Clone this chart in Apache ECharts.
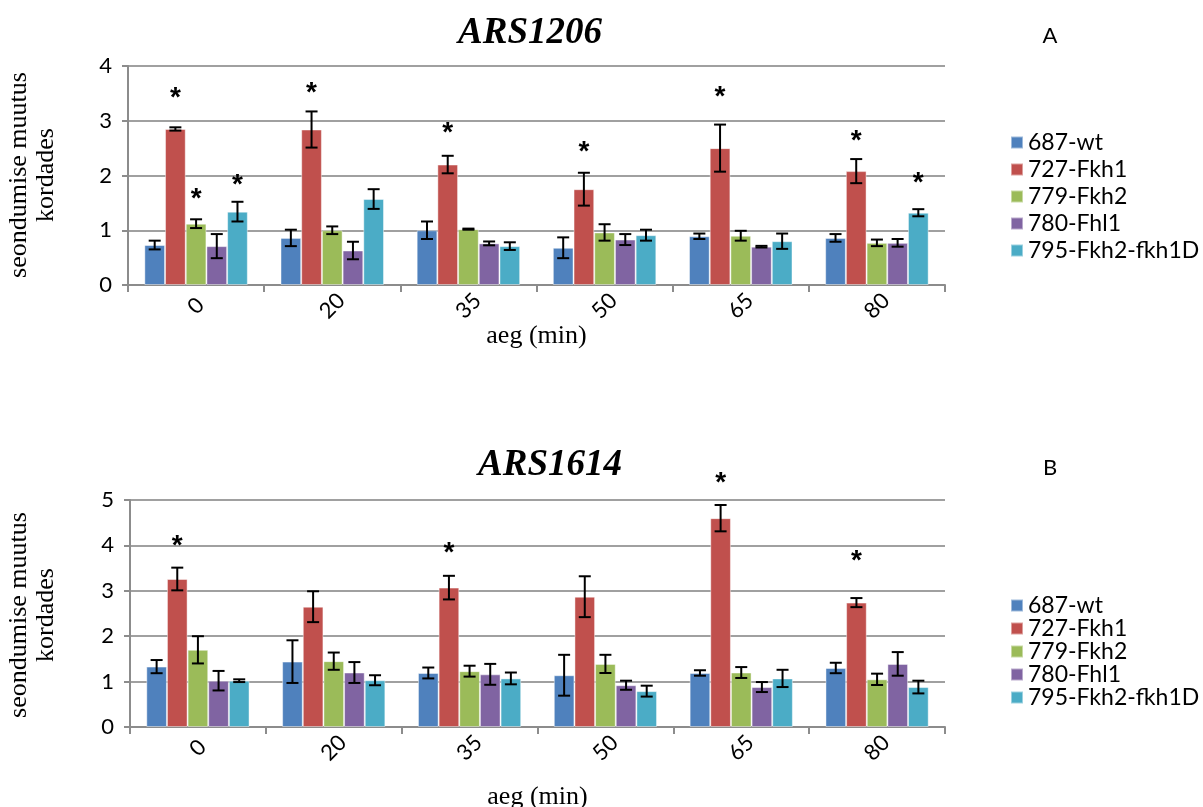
<!DOCTYPE html>
<html><head><meta charset="utf-8">
<script src="https://cdn.jsdelivr.net/npm/echarts@6/dist/echarts.min.js"></script>
<style>html,body{margin:0;padding:0;background:#fff}#c{width:1203px;height:807px}</style>
</head><body><div id="c"></div><script>
const categories = ['0', '20', '35', '50', '65', '80'];
const seriesNames = ['687-wt', '727-Fkh1', '779-Fkh2', '780-Fhl1', '795-Fkh2-fkh1D'];
const colors = ['#4F81BD', '#C0504D', '#9BBB59', '#8064A2', '#4BACC6'];
const yTicksA = [0, 1, 2, 3, 4];
const yTicksB = [0, 1, 2, 3, 4, 5];

// ARS1206 (panel A): means and error half-widths
const a_wt      = [0.73, 0.86, 1.00, 0.68, 0.89, 0.86];
const a_wt_e    = [0.08, 0.15, 0.16, 0.19, 0.05, 0.07];
const a_fkh1    = [2.85, 2.84, 2.20, 1.75, 2.50, 2.08];
const a_fkh1_e  = [0.03, 0.33, 0.16, 0.30, 0.43, 0.22];
const a_fkh2    = [1.12, 1.00, 1.02, 0.96, 0.90, 0.77];
const a_fkh2_e  = [0.08, 0.07, 0.01, 0.15, 0.09, 0.06];
const a_fhl1    = [0.71, 0.63, 0.76, 0.83, 0.70, 0.77];
const a_fhl1_e  = [0.22, 0.16, 0.035, 0.10, 0.015, 0.07];
const a_dbl     = [1.34, 1.57, 0.71, 0.91, 0.80, 1.32];
const a_dbl_e   = [0.18, 0.18, 0.07, 0.10, 0.14, 0.065];
// significance stars: [category index, series index, height]
const a_stars = [[0, 1, 3.51], [0, 2, 1.65], [0, 4, 1.92], [1, 1, 3.59], [2, 1, 2.87],
                 [3, 1, 2.52], [4, 1, 3.52], [5, 1, 2.72], [5, 4, 1.95]];

// ARS1614 (panel B)
const b_wt      = [1.33, 1.44, 1.19, 1.14, 1.19, 1.30];
const b_wt_e    = [0.145, 0.47, 0.12, 0.45, 0.06, 0.115];
const b_fkh1    = [3.26, 2.65, 3.07, 2.87, 4.60, 2.74];
const b_fkh1_e  = [0.25, 0.34, 0.26, 0.45, 0.29, 0.10];
const b_fkh2    = [1.70, 1.45, 1.23, 1.39, 1.20, 1.05];
const b_fkh2_e  = [0.30, 0.19, 0.12, 0.20, 0.12, 0.125];
const b_fhl1    = [1.02, 1.20, 1.16, 0.92, 0.88, 1.39];
const b_fhl1_e  = [0.215, 0.23, 0.23, 0.10, 0.11, 0.26];
const b_dbl     = [1.02, 1.03, 1.07, 0.79, 1.07, 0.88];
const b_dbl_e   = [0.03, 0.11, 0.13, 0.12, 0.19, 0.14];
const b_stars = [[0, 1, 4.09], [2, 1, 3.93], [4, 1, 5.48], [5, 1, 3.77]];

const aVals = [a_wt, a_fkh1, a_fkh2, a_fhl1, a_dbl];
const aErrs = [a_wt_e, a_fkh1_e, a_fkh2_e, a_fhl1_e, a_dbl_e];
const bVals = [b_wt, b_fkh1, b_fkh2, b_fhl1, b_dbl];
const bErrs = [b_wt_e, b_fkh1_e, b_fkh2_e, b_fhl1_e, b_dbl_e];

const GAP = 0.24;
const SANS = 'Lato';
const SERIF = 'Liberation Serif';

function barOffset(api, s) {
  const band = api.size([1, 0])[0];
  const bw = band * (1 - GAP) / 5;
  return (s - 2) * bw;
}
function errRender(params, api) {
  const cat = api.value(0), s = api.value(1), v = api.value(2), e = api.value(3);
  const x = api.coord([cat, v])[0] + barOffset(api, s);
  const top = api.coord([cat, v + e])[1];
  const bot = api.coord([cat, v - e])[1];
  const cap = 6;
  const st = { stroke: '#000', lineWidth: 2 };
  return { type: 'group', children: [
    { type: 'line', shape: { x1: x, y1: top, x2: x, y2: bot }, style: st },
    { type: 'line', shape: { x1: x - cap, y1: top, x2: x + cap, y2: top }, style: st },
    { type: 'line', shape: { x1: x - cap, y1: bot, x2: x + cap, y2: bot }, style: st }
  ]};
}
function starRender(params, api) {
  const cat = api.value(0), s = api.value(1), h = api.value(2);
  const p = api.coord([cat, h]);
  return { type: 'text', x: p[0] + barOffset(api, s), y: p[1] + 5,
    style: { text: '*', fontSize: 28, fontWeight: 'bold', fontFamily: 'Liberation Sans', fill: '#000', align: 'center', verticalAlign: 'middle' } };
}

const series = [];
function addPanel(idx, vals, errs, stars) {
  vals.forEach((v, s) => {
    series.push({ type: 'bar', name: seriesNames[s], xAxisIndex: idx, yAxisIndex: idx,
      data: v, barCategoryGap: (GAP * 100) + '%', barGap: '0%',
      itemStyle: { color: colors[s], borderColor: 'rgba(255,255,255,0.45)', borderWidth: 1 },
      emphasis: { disabled: true } });
  });
  const errData = [];
  vals.forEach((v, s) => v.forEach((val, c) => errData.push([c, s, val, errs[s][c]])));
  series.push({ type: 'custom', xAxisIndex: idx, yAxisIndex: idx, data: errData,
    renderItem: errRender, encode: { x: 0, y: 2 }, z: 5, silent: true });
  series.push({ type: 'custom', xAxisIndex: idx, yAxisIndex: idx, data: stars,
    renderItem: starRender, encode: { x: 0, y: 2 }, z: 6, silent: true, clip: false });
}
addPanel(0, aVals, aErrs, a_stars);
addPanel(1, bVals, bErrs, b_stars);

function xAxis(idx, gap) {
  return { type: 'category', gridIndex: idx, data: categories,
    name: 'aeg (min)', nameLocation: 'middle', nameGap: gap, nameMoveOverlap: false,
    nameTextStyle: { fontFamily: SERIF, fontSize: 26, color: '#000' },
    axisLine: { lineStyle: { color: '#8c8c8c', width: 2 } },
    axisTick: { show: true, length: 7, lineStyle: { color: '#8c8c8c', width: 2 } },
    axisLabel: { rotate: 45, margin: 21, align: 'center', verticalAlign: 'middle',
      fontFamily: SANS, fontSize: 22, color: '#000' } };
}
function yAxis(idx, max) {
  return { type: 'value', gridIndex: idx, min: 0, max: max, interval: 1,
    axisLine: { show: true, lineStyle: { color: '#8c8c8c', width: 2 } },
    axisTick: { show: true, length: 6, lineStyle: { color: '#8c8c8c', width: 2 } },
    splitLine: { lineStyle: { color: '#a0a0a0', width: 2 } },
    axisLabel: { margin: 16, fontFamily: SANS, fontSize: 22, color: '#000',
      formatter: v => String(v) } };
}
function legend(top, gap) {
  return { data: seriesNames, orient: 'vertical', left: 1005, top: top,
    icon: 'rect', itemWidth: 12, itemHeight: 12, itemGap: gap,
    textStyle: { fontFamily: SANS, fontSize: 23, color: '#000', padding: [0, 0, 0, 0] } };
}
function yName(cy) {
  return { type: 'text', x: 33, y: cy, rotation: Math.PI / 2,
    style: { text: 'seondumise muutus\nkordades', fontFamily: SERIF, fontSize: 26, lineHeight: 27,
      fill: '#000', align: 'center', verticalAlign: 'middle' } };
}

const chart = echarts.init(document.getElementById('c'), null, { renderer: 'canvas' });
chart.setOption({
  animation: false,
  color: colors,
  title: [
    { text: 'ARS1206', left: 525, top: 10, textAlign: 'center',
      textStyle: { fontFamily: SERIF, fontStyle: 'italic', fontWeight: 'bold', fontSize: 37, color: '#000' } },
    { text: 'A', left: 1045, top: 20, textAlign: 'center',
      textStyle: { fontFamily: SANS, fontWeight: 'normal', fontSize: 22, color: '#000' } },
    { text: 'ARS1614', left: 545, top: 442, textAlign: 'center',
      textStyle: { fontFamily: SERIF, fontStyle: 'italic', fontWeight: 'bold', fontSize: 37, color: '#000' } },
    { text: 'B', left: 1045, top: 452, textAlign: 'center',
      textStyle: { fontFamily: SANS, fontWeight: 'normal', fontSize: 22, color: '#000' } }
  ],
  legend: [legend(126, 4), legend(589, 0)],
  grid: [
    { left: 128, right: 258, top: 66, height: 219, outerBoundsMode: 'none', containLabel: false },
    { left: 130, right: 258, top: 500, height: 227, outerBoundsMode: 'none', containLabel: false }
  ],
  xAxis: [xAxis(0, 38), xAxis(1, 57)],
  yAxis: [yAxis(0, yTicksA[yTicksA.length - 1]), yAxis(1, yTicksB[yTicksB.length - 1])],
  graphic: [yName(175), yName(615)],
  series: series
});
</script></body></html>
